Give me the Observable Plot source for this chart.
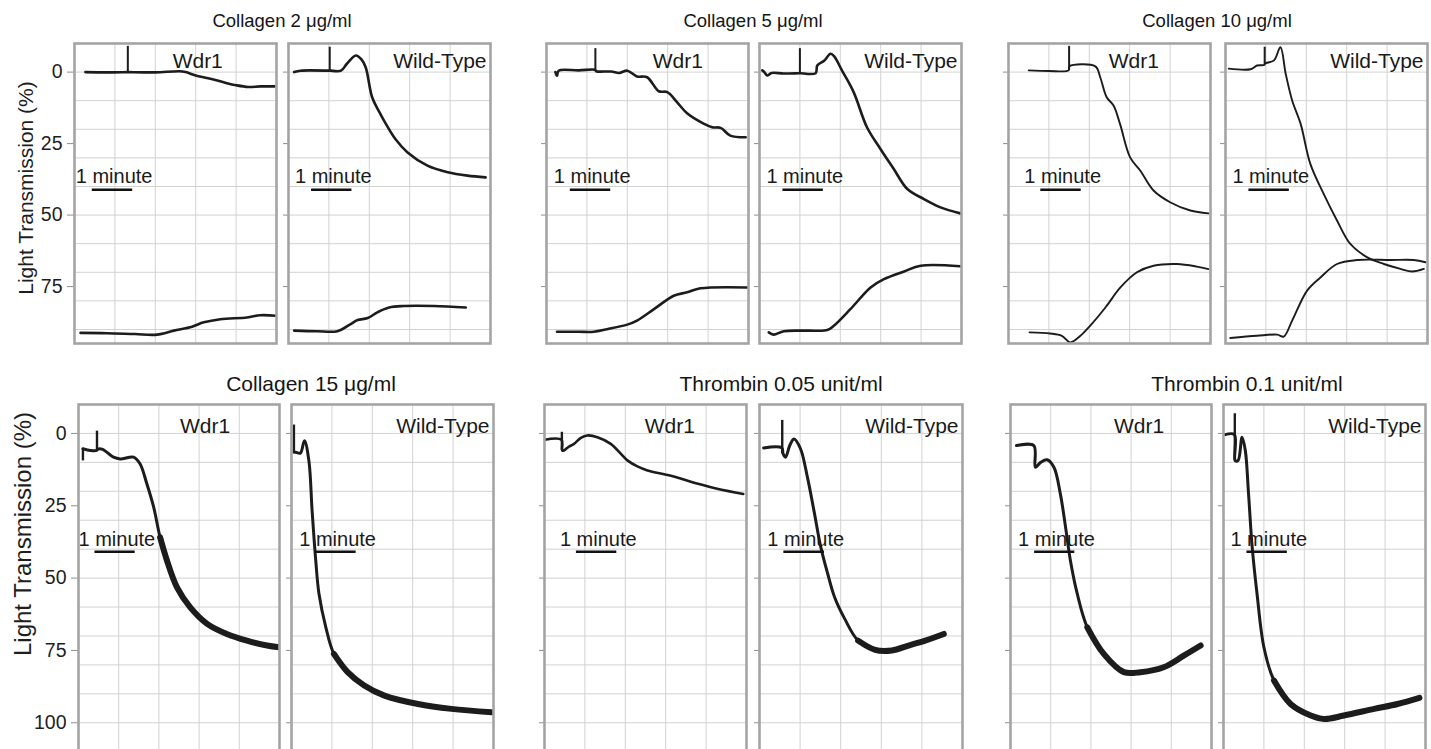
<!DOCTYPE html>
<html><head><meta charset="utf-8">
<script src="https://cdn.jsdelivr.net/npm/d3@7"></script>
<script src="https://cdn.jsdelivr.net/npm/@observablehq/plot@0.6"></script>
<style>
body{margin:0;background:#fff;font-family:"Liberation Sans",Arial,sans-serif;}
#fig{position:relative;width:1431px;height:749px;overflow:hidden;background:#fff;}
.title{position:absolute;transform:translateX(-50%);white-space:nowrap;color:#151515;line-height:1;}
.ylab{position:absolute;white-space:nowrap;transform:translate(-50%,-50%) rotate(-90deg);color:#1e1e1e;line-height:1;}
.panel{position:absolute;}
</style></head><body><div id="fig"></div><script>
// ---------------- DATA ----------------
const titles = ["Collagen 2 \u03bcg/ml", "Collagen 5 \u03bcg/ml", "Collagen 10 \u03bcg/ml",
                "Collagen 15 \u03bcg/ml", "Thrombin 0.05 unit/ml", "Thrombin 0.1 unit/ml"];
const genotypes = ["Wdr1", "Wild-Type"];
const topTicks = [0, 25, 50, 75];
const bottomTicks = [0, 25, 50, 75, 100];
const yLabel = "Light Transmission (%)";
const barLabel = "1 minute";

// traces: [minutes, light transmission %]
const col2Wdr1Upper = [[0.27,0],[0.8,0.1],[1.31,0],[1.34,0],[2.0,0.1],[2.6,-0.3],[2.75,0],[3.0,1.2],[3.44,2.6],[3.75,3.8],[4.0,4.6],[4.3,5.2],[4.6,5.0],[4.95,5.0]];
const col2Wdr1Lower = [[0.15,91.2],[0.8,91.3],[1.5,91.6],[2.04,91.8],[2.46,90.4],[2.91,89.0],[3.2,87.5],[3.61,86.4],[4.27,85.8],[4.6,85.0],[5.0,85.2]];
const col2WtUpper = [[0.14,0],[0.3,-0.5],[1.0,-0.5],[1.04,-0.5],[1.3,-0.5],[1.45,-3],[1.67,-5.8],[1.8,-4.5],[1.91,-1.7],[2.07,8.8],[2.25,14],[2.41,18.1],[2.65,23.5],[2.94,28],[3.44,32.7],[3.94,35],[4.43,36.2],[4.88,36.8]];
const col2WtLower = [[0.14,90.4],[0.7,90.6],[1.21,90.6],[1.54,88.1],[1.71,86.7],[1.96,86],[2.2,84],[2.49,82.3],[2.86,81.8],[3.6,81.8],[4.39,82.3]];
const col5Wdr1Upper = [[0.22,0],[0.26,1.3],[0.3,-0.5],[0.8,-0.6],[1.2,-0.8],[1.23,-0.3],[1.6,-0.2],[1.8,0.3],[2.0,-0.5],[2.24,1.5],[2.49,1.8],[2.78,6.7],[2.99,7],[3.23,10.5],[3.48,14.4],[3.9,18.1],[4.1,19.3],[4.31,19.5],[4.55,22.2],[4.93,22.8]];
const col5Wdr1Lower = [[0.26,90.8],[0.8,90.8],[1.17,90.8],[1.5,89.9],[2.0,88.3],[2.24,86.9],[2.66,82.9],[3.15,78.2],[3.48,77],[3.81,75.6],[4.97,75.3]];
const col5WtUpper = [[0.07,-0.6],[0.12,0],[0.19,1.2],[0.3,0.3],[0.6,0.5],[0.98,0.4],[1.02,0.4],[1.39,0.4],[1.43,-2.3],[1.6,-4],[1.76,-6.4],[1.85,-5.5],[2.04,-0.6],[2.33,7],[2.66,19.3],[2.99,26.8],[3.32,33.8],[3.66,40.9],[4.07,44.4],[4.48,47.3],[4.97,49.4]];
const col5WtLower = [[0.23,91],[0.35,91.8],[0.6,90.6],[1.2,90.4],[1.68,90.2],[1.84,88.7],[2.25,82.9],[2.75,75.3],[3.08,72.4],[3.58,69.7],[3.99,67.7],[4.97,67.9]];
const col10Wdr1Upper = [[0.5,-0.6],[1.0,-0.4],[1.49,-0.6],[1.51,-2],[2.15,-2],[2.27,1.8],[2.43,8.8],[2.6,11.7],[2.76,18.1],[3.01,29.8],[3.26,34.4],[3.59,41.4],[4.0,45.5],[4.5,48.4],[4.95,49.4]];
const col10Wdr1Lower = [[0.52,91],[1.03,91.4],[1.32,92.2],[1.53,94.5],[1.78,92.2],[2.02,88.7],[2.4,82.3],[2.77,75.3],[3.18,70],[3.59,67.7],[4.17,67.1],[4.66,68],[4.95,68.9]];
const col10WtUpper = [[0.08,-1.2],[0.62,-1],[0.78,-2.3],[0.96,-2.5],[0.98,-3],[1.2,-4.1],[1.36,-8.7],[1.49,0.6],[1.65,9.9],[1.86,18.1],[2.1,32.1],[2.43,42.6],[2.76,51.9],[3.09,60.1],[3.51,64.8],[3.92,67.1],[4.33,68.8],[4.62,69.7],[4.91,68.8]];
const col10WtLower = [[0.12,93],[0.78,92.2],[1.28,91.8],[1.44,92.5],[1.65,86.9],[2.02,76.4],[2.35,71.8],[2.76,67.1],[3.26,65.7],[4.08,65.7],[4.66,65.7],[4.95,66.5]];

const col15Wdr1 = [[0.11,5.3],[0.3,5.9],[0.45,5.9],[0.47,5.5],[0.6,5.5],[0.87,8.2],[1.04,8.8],[1.37,8.2],[1.53,10.5],[1.7,17.4],[1.87,25.5],[2.03,35.9],[2.2,43.9],[2.45,53.2],[2.78,60.1],[3.2,65.8],[3.69,69.3],[4.19,71.6],[4.69,73.3],[5.0,73.9]];
const col15Wt = [[0.06,6.5],[0.1,6.5],[0.22,6.8],[0.32,2.5],[0.43,9.4],[0.51,26.7],[0.6,43.9],[0.68,55.4],[0.85,67],[1.05,76.2],[1.39,82.5],[1.8,87.1],[2.3,90.6],[3.13,93.5],[3.96,95.2],[4.95,96.4]];
const thr005Wdr1 = [[0,2.2],[0.42,2.2],[0.44,5.9],[0.48,5.9],[0.6,4.6],[0.73,3.6],[0.9,1.5],[1.06,0.7],[1.31,1.3],[1.64,3.6],[2.06,9.4],[2.3,11.4],[2.55,12.8],[3.13,14.6],[3.8,17.4],[4.3,19.2],[4.92,20.9]];
const thr005Wt = [[0.1,5],[0.55,5],[0.58,7],[0.64,8.2],[0.75,4],[0.85,1.9],[1.01,5.3],[1.18,15.1],[1.34,26.6],[1.51,39.3],[1.68,48.5],[1.85,56.6],[2.1,64.1],[2.43,71.6],[2.85,74.8],[3.26,75],[3.67,73.3],[4.08,71.6],[4.54,69.3]];
const thr01Wdr1 = [[0.15,4.2],[0.58,4.2],[0.62,11.7],[0.75,10],[0.91,9.1],[1.08,11.7],[1.24,20.9],[1.37,32.4],[1.49,43.9],[1.66,55.4],[1.91,67],[2.32,76.2],[2.82,82.5],[3.23,82.5],[3.81,80.8],[4.31,76.8],[4.73,73.3]];
const thr01Wt = [[0.04,0.4],[0.27,0.4],[0.29,9.4],[0.36,9.4],[0.46,1.3],[0.54,5.9],[0.62,20.9],[0.71,39.3],[0.83,55.4],[1.0,73.9],[1.25,85.4],[1.66,93.5],[2.16,97.5],[2.49,98.7],[2.98,97.5],[3.73,95.2],[4.31,93.5],[4.85,91.4]];

// injection artefacts (vertical spikes): [panel index 0-11, minutes, from %, to %]
const spikes = [[0, 1.32, 0, -9], [1, 1.02, -0.5, -8.7], [2, 1.21, -0.7, -8.2], [3, 1.0, 0.4, -8.2],
                [4, 1.5, -0.6, -9], [5, 0.97, -2.5, -8.7],
                [6, 0.11, 9.5, 5.3], [6, 0.46, 5.9, -0.8], [7, 0.06, 6.5, -2.9],
                [8, 0.43, 5.9, -0.4], [9, 0.56, 7, -4.5], [11, 0.28, 9.4, -6.8]];
// noisy recording starts (minutes) for bottom-row traces
const noiseFrom = [2.0, 0.9, 9, 2.2, 1.8, 1.1];
// "1 minute" scale bar start (minutes), per panel (top row then bottom row)
const barStart = [0.44, 0.57, 0.59, 0.58, 0.8, 0.58, 0.41, 0.6, 0.79, 0.6, 0.6, 0.58];
// x position (minutes) of the "Wdr1" tag
const wdr1TagX = [3.05, 3.25, 3.1, 3.15, 3.1, 3.2];

const topTraces = [[col2Wdr1Upper, col2Wdr1Lower], [col2WtUpper, col2WtLower],
                   [col5Wdr1Upper, col5Wdr1Lower], [col5WtUpper, col5WtLower],
                   [col10Wdr1Upper, col10Wdr1Lower], [col10WtUpper, col10WtLower]];
const bottomTraces = [[col15Wdr1], [col15Wt], [thr005Wdr1], [thr005Wt], [thr01Wdr1], [thr01Wt]];

// ---------------- LAYOUT ----------------
const rows = [
  {top: 43, height: 300, yDomain: [-10, 94.9], ticks: topTicks, gridMax: 90,
   lefts: [74, 288, 546, 759, 1008, 1225], rights: [276, 490, 748, 961, 1210, 1427],
   titleX: [282, 753, 1217], titleBase: 28, titleSize: 18.5,
   labelX: 24.5, labelY: 188, labelSize: 21, tagY: -1.3, minuteY: 38.7, barY: 41.1,
   traces: topTraces, lineW: [2.6, 2.6, 2.6, 2.6, 1.9, 1.9]},
  {top: 404, height: 353, yDomain: [-10, 112], ticks: bottomTicks, gridMax: 110,
   lefts: [78, 291, 544, 759, 1010, 1223], rights: [279, 493, 746, 962, 1211, 1425],
   titleX: [311, 781, 1247], titleBase: 391, titleSize: 21,
   labelX: 22.5, labelY: 534, labelSize: 24, tagY: 0, minuteY: 38.8, barY: 40.9,
   traces: bottomTraces, lineW: [3, 3, 2.6, 3, 3, 3]}
];

const fig = document.getElementById("fig");
const font = "Liberation Sans, Arial, sans-serif";
const ink = "#1c1c1c";

rows.forEach((row, r) => {
  titles.slice(r * 3, r * 3 + 3).forEach((t, g) => {
    const d = document.createElement("div");
    d.className = "title";
    d.textContent = t;
    d.style.fontSize = row.titleSize + "px";
    d.style.left = row.titleX[g] + "px";
    d.style.top = (row.titleBase - 0.846 * row.titleSize) + "px";
    fig.appendChild(d);
  });
  const yl = document.createElement("div");
  yl.className = "ylab";
  yl.textContent = yLabel;
  yl.style.fontSize = row.labelSize + "px";
  yl.style.left = row.labelX + "px";
  yl.style.top = row.labelY + "px";
  fig.appendChild(yl);

  for (let p = 0; p < 6; p++) {
    const first = p === 0;
    const isWdr = p % 2 === 0;
    const idx = r * 6 + p;
    const mL = first ? 80 : 10, mR = 3, mT = 3, mB = 3;
    const w = row.rights[p] - row.lefts[p];
    const grid = d3.range(0, row.gridMax + 1, 10);
    const marks = [
      Plot.ruleX([1, 2, 3, 4], {stroke: "#d2d2d2", strokeWidth: 1}),
      Plot.ruleY(grid, {stroke: "#d2d2d2", strokeWidth: 1}),
      Plot.axisY(row.ticks, {
        anchor: "left", tickSize: first ? 7 : 5, tickPadding: 5, stroke: "#8f8f8f",
        fill: "#1e1e1e", fontSize: 19.5, label: null,
        tickFormat: first ? (d => String(d)) : (() => "")
      })
    ];
    row.traces[p].forEach(tr => {
      marks.push(Plot.line(tr, {x: d => d[0], y: d => d[1], stroke: ink, curve: "catmull-rom",
        strokeWidth: row.lineW[p], strokeLinejoin: "round", strokeLinecap: "round", clip: true}));
    });
    if (r === 1) {
      const nf = noiseFrom[p];
      const noisy = row.traces[p][0].filter(d => d[0] >= nf);
      if (noisy.length > 1) {
        marks.push(Plot.line(noisy, {x: d => d[0], y: d => d[1], stroke: ink, curve: "catmull-rom",
          strokeWidth: 6, strokeLinejoin: "round", strokeLinecap: "round", clip: true}));
      }
    }
    marks.push(Plot.ruleX(spikes.filter(s => s[0] === idx), {
      x: s => s[1], y1: s => s[2], y2: s => s[3], stroke: ink,
      strokeWidth: r === 0 ? 2 : 2.4, clip: true
    }));
    const tagName = genotypes[p % 2];
    marks.push(Plot.text([tagName], {
      x: isWdr ? wdr1TagX[Math.floor(p / 2) + r * 3] : 5,
      y: row.tagY, text: d => d, fontSize: 21, fill: "#1a1a1a",
      textAnchor: isWdr ? "middle" : "end", lineAnchor: "bottom", dx: isWdr ? 0 : -4
    }));
    const bs = barStart[idx];
    marks.push(Plot.text([barLabel], {
      x: bs, y: row.minuteY, text: d => d, fontSize: 20, fill: "#1a1a1a",
      textAnchor: "start", lineAnchor: "bottom", dx: -16.5
    }));
    marks.push(Plot.ruleY([{y: row.barY, x1: bs, x2: bs + 1}], {
      y: "y", x1: "x1", x2: "x2", stroke: "#111", strokeWidth: 2.5
    }));
    marks.push(Plot.frame({stroke: "#a4a4a4", strokeWidth: 2.6}));

    const chart = Plot.plot({
      width: mL + w + mR, height: mT + row.height + mB,
      marginLeft: mL, marginRight: mR, marginTop: mT, marginBottom: mB,
      x: {domain: [0, 5], axis: null},
      y: {domain: row.yDomain, reverse: true, axis: null},
      style: {fontFamily: font, fontSize: "19.5px", background: "transparent", overflow: "visible", color: "#1e1e1e"},
      marks
    });
    chart.classList.add("panel");
    chart.style.left = (row.lefts[p] - mL) + "px";
    chart.style.top = (row.top - mT) + "px";
    fig.appendChild(chart);
  }
});
</script></body></html>
